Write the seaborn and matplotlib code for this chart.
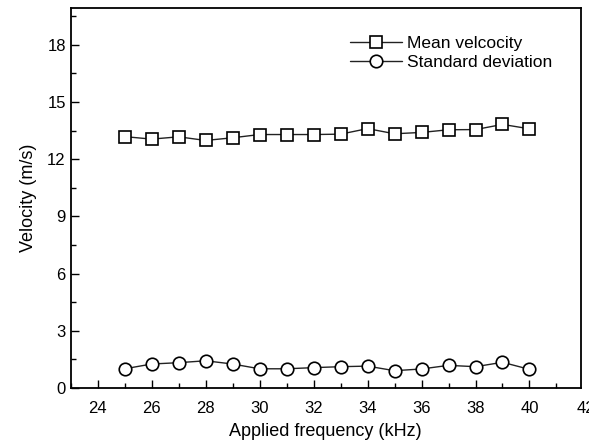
import pandas as pd
import matplotlib.pyplot as plt
import seaborn as sns
from matplotlib.ticker import MultipleLocator

freq = [25, 26, 27, 28, 29, 30, 31, 32, 33, 34, 35, 36, 37, 38, 39, 40]
mean_vel = [13.18, 13.05, 13.17, 12.98, 13.12, 13.29, 13.29, 13.29, 13.31, 13.6,
            13.33, 13.4, 13.54, 13.55, 13.82, 13.59]
std_dev = [1.01, 1.26, 1.33, 1.43, 1.26, 1.01, 1.01, 1.07, 1.12, 1.15,
           0.91, 1.0, 1.19, 1.12, 1.35, 0.98]

df = pd.DataFrame({"freq": freq, "Mean velcocity": mean_vel, "Standard deviation": std_dev})

sns.set_style("ticks")
plt.rcParams['font.family'] = ['Liberation Sans', 'DejaVu Sans']
plt.rcParams.update({"text.color": "black", "axes.labelcolor": "black",
                     "xtick.color": "black", "ytick.color": "black"})

fig = plt.figure(figsize=(5.89, 4.44), dpi=100)
ax = fig.add_axes([0.12, 0.126, 0.866, 0.855])

sns.lineplot(data=df, x="freq", y="Mean velcocity", ax=ax, color="#222222", lw=1,
             marker="s", markersize=8, markerfacecolor="white", markeredgecolor="black",
             markeredgewidth=1.2, label="Mean velcocity")
sns.lineplot(data=df, x="freq", y="Standard deviation", ax=ax, color="#222222", lw=1,
             marker="o", markersize=9, markerfacecolor="white", markeredgecolor="black",
             markeredgewidth=1.2, label="Standard deviation")

ax.set_xlim(23, 41.9)
ax.set_ylim(0, 19.9)
ax.xaxis.set_major_locator(MultipleLocator(2))
ax.xaxis.set_minor_locator(MultipleLocator(1))
ax.yaxis.set_major_locator(MultipleLocator(3))
ax.yaxis.set_minor_locator(MultipleLocator(1.5))
ax.tick_params(which="both", direction="in", top=False, right=False, labelsize=12, width=1)
ax.tick_params(which="major", length=6)
ax.tick_params(which="minor", length=3.5)
ax.tick_params(axis="x", pad=9)
for s in ax.spines.values():
    s.set_linewidth(1.3)
    s.set_color("black")

# the 42 label sits just past the right edge in the original (partly cut off there too)
ax.text(41.75, -0.035, "42", transform=ax.get_xaxis_transform(), ha="left", va="top",
        fontsize=12, clip_on=False)

ax.set_xlabel("Applied frequency (kHz)", fontsize=13, labelpad=5)
ax.set_ylabel("Velocity (m/s)", fontsize=13, labelpad=7)

ax.legend(loc="upper right", bbox_to_anchor=(0.975, 0.97), frameon=False, fontsize=12.5,
          handlelength=3.0, handletextpad=0.3, labelspacing=0.25)

fig.savefig("out.png", dpi=100)
